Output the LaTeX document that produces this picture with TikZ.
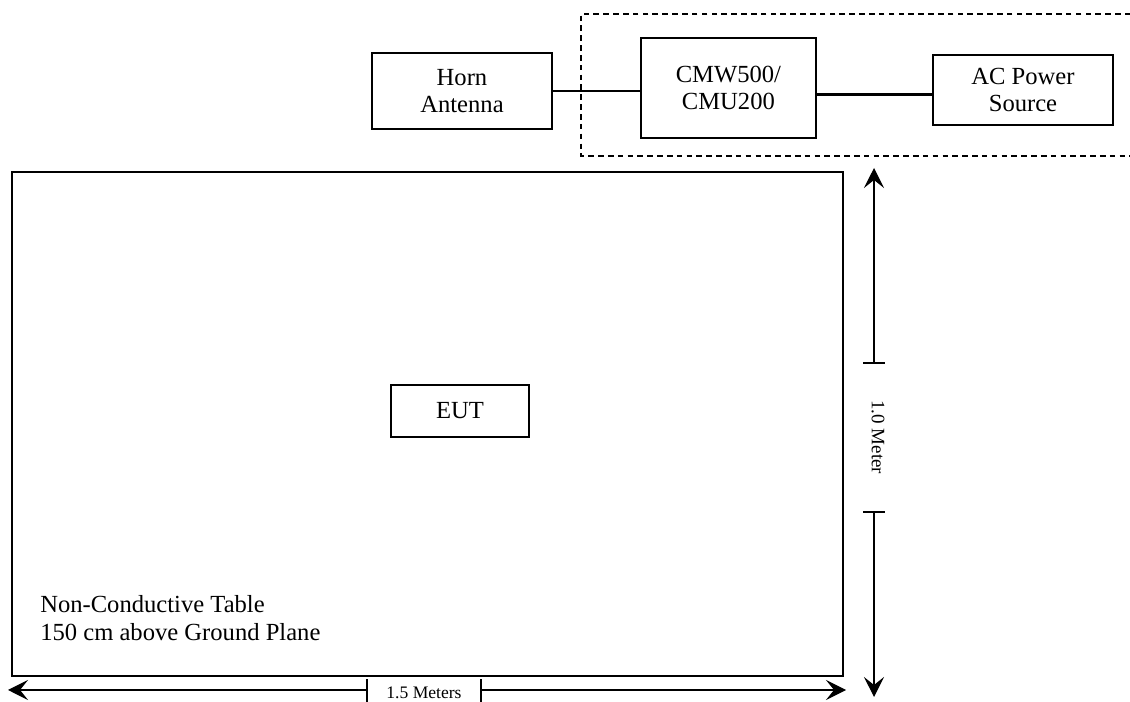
\documentclass[tikz,border=0pt]{standalone}
\usepackage{fontspec}
\setmainfont{Liberation Serif}
\usetikzlibrary{arrows.meta}

\begin{document}
\begin{tikzpicture}[
  unit/.style={draw, line width=1.3pt, align=center, inner sep=0pt, font=\fontsize{17.5}{19}\selectfont},
  dimline/.style={-{Stealth[length=5mm, width=5mm, inset=2mm]}, line width=0.9pt},
  tick/.style={line width=0.9pt},
  dimlabel/.style={inner sep=0pt, font=\fontsize{12.5}{14}\selectfont}
]
\useasboundingbox (0,0) rectangle (28.25,17.55);

% test equipment
\node[unit, minimum width=4.5cm, minimum height=1.9cm] (horn) at (11.55,15.275) {Horn\\Antenna};
\node[unit, minimum width=4.375cm, minimum height=2.5cm] (cmw) at (18.21,15.35) {CMW500/\\CMU200};
\node[unit, minimum width=4.5cm, minimum height=1.75cm] (acps) at (25.575,15.3) {AC Power\\Source};
\draw[line width=0.9pt] (horn.east) -- (horn.east -| cmw.west);
\draw[line width=2.2pt] ([yshift=-0.17cm]cmw.east) -- ([yshift=-0.17cm]cmw.east -| acps.west);
\draw[dashed, dash pattern=on 4pt off 3pt, line width=1pt] (29,17.2) -- (14.525,17.2) -- (14.525,13.65) -- (29,13.65);

% table and EUT
\node[draw, line width=1.8pt, minimum width=20.775cm, minimum height=12.6cm, inner sep=0pt] (table) at (10.6875,6.95) {};
\node[unit, minimum width=3.45cm, minimum height=1.3cm] (eut) at (11.5,7.275) {EUT};
\node[anchor=west, align=left, inner sep=0pt, font=\fontsize{17.5}{20}\selectfont] (tabletext) at (1.0,2.1) {Non-Conductive Table\\150 cm above Ground Plane};

% 1.0 m dimension
\coordinate (vtop) at (21.85,13.35);
\coordinate (vbot) at (21.85,0.125);
\coordinate (vtick1) at (21.85,8.475);
\coordinate (vtick2) at (21.85,4.75);
\node[dimlabel, rotate=-90, font=\fontsize{13.5}{15}\selectfont] (vlabel) at (21.95,6.62) {1.0 Meter};
\draw[dimline] (vtick1) -- (vtop);
\draw[dimline] (vtick2) -- (vbot);
\draw[tick] ([xshift=-0.27cm]vtick1) -- ([xshift=0.28cm]vtick1);
\draw[tick] ([xshift=-0.27cm]vtick2) -- ([xshift=0.28cm]vtick2);

% 1.5 m dimension
\coordinate (hleft) at (0.2,0.3);
\coordinate (hright) at (21.15,0.3);
\coordinate (htick1) at (9.175,0.3);
\coordinate (htick2) at (12.025,0.3);
\node[dimlabel, anchor=base] (hlabel) at (10.6,0.08) {1.5 Meters};
\draw[dimline] (htick1) -- (hleft);
\draw[dimline] (htick2) -- (hright);
\draw[tick] ([yshift=0.27cm]htick1) -- ([yshift=-0.4cm]htick1);
\draw[tick] ([yshift=0.27cm]htick2) -- ([yshift=-0.4cm]htick2);
\end{tikzpicture}
\end{document}
